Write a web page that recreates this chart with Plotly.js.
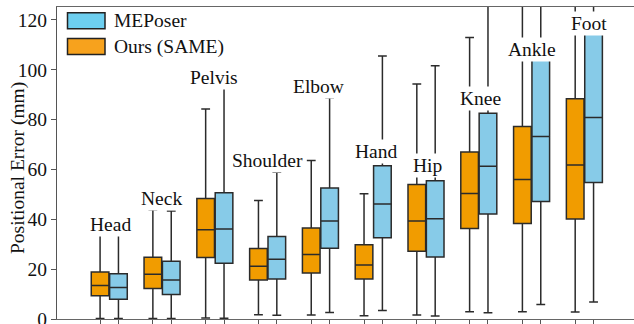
<!DOCTYPE html>
<html>
<head>
<meta charset="utf-8">
<script src="https://cdn.plot.ly/plotly-3.0.1.min.js"></script>
<style>html,body{margin:0;padding:0;background:#fff;}#chart{width:634px;height:324px;}</style>
</head>
<body>
<div id="chart"></div>
<script>
// ---- data ----
const joints = ["Head","Neck","Pelvis","Shoulder","Elbow","Hand","Hip","Knee","Ankle","Foot"];
// Ours (SAME)
const oursLow    = [0.2, 0.2, 0.4, 1.7, 1.6, 1.3, 1.6, 2.9, 2.9, 2.8];
const oursQ1     = [9.3, 12.2, 24.7, 15.6, 18.5, 16.1, 27.2, 36.3, 38.3, 40.1];
const oursMedian = [13.4, 18.0, 35.8, 21.2, 25.9, 21.7, 39.3, 50.4, 56.0, 61.8];
const oursQ3     = [18.9, 24.8, 48.4, 28.3, 36.5, 29.8, 54.0, 67.0, 77.2, 88.4];
const oursHigh   = [33.7, 43.8, 84.3, 47.6, 63.6, 50.3, 94.3, 113.0, 140.0, 150.0];
// MEPoser
const mepLow    = [0.2, 0.2, 0.3, 1.5, 2.6, 3.4, 1.2, 2.5, 5.8, 6.8];
const mepQ1     = [7.9, 9.8, 22.4, 16.1, 28.4, 32.6, 24.9, 42.1, 47.2, 54.8];
const mepMedian = [12.6, 15.6, 36.1, 24.0, 39.3, 46.1, 40.2, 61.3, 73.2, 80.9];
const mepQ3     = [18.2, 23.2, 50.7, 33.1, 52.6, 61.5, 55.5, 82.6, 108.0, 118.0];
const mepHigh   = [33.7, 43.3, 93.2, 58.9, 88.8, 105.5, 101.6, 140.0, 150.0, 160.0];
const seriesNames = ["MEPoser", "Ours (SAME)"];
const yTicks = [0, 20, 40, 60, 80, 100, 120];
const yTitle = "Positional Error (mm)";

// ---- label placement (not data) ----
const labelY  = [38.1, 48.2, 96.8, 63.8, 93.5, 67.1, 61.5, 88.3, 108.0, 118.7];
const labelDx = [0.015, -0.01, -0.02, -0.01, -0.04, 0.06, 0.03, 0.04, 0.0, 0.085];

const idx = joints.map((_, i) => i);
const boxOffset = 0.174;
const font = "Liberation Serif";
const fs = 19.5;
const oursFill = "#F19C00", mepFill = "#87CBE8";
const lineCol = "#2b2b2b";

const traces = [
  {
    type: "box", name: seriesNames[1], x: idx,
    lowerfence: oursLow, q1: oursQ1, median: oursMedian, q3: oursQ3, upperfence: oursHigh,
    fillcolor: oursFill, line: {color: lineCol, width: 1.5}, whiskerwidth: 0.5,
    boxpoints: false, showlegend: false, hoverinfo: "skip"
  },
  {
    type: "box", name: seriesNames[0], x: idx,
    lowerfence: mepLow, q1: mepQ1, median: mepMedian, q3: mepQ3, upperfence: mepHigh,
    fillcolor: mepFill, line: {color: lineCol, width: 1.5}, whiskerwidth: 0.5,
    boxpoints: false, showlegend: false, hoverinfo: "skip"
  }
];

const tickvals = [];
idx.forEach(i => { tickvals.push(i - boxOffset, i + boxOffset); });

const annotations = joints.map((j, i) => ({
  x: i + labelDx[i], y: labelY[i], xref: "x", yref: "y", text: j, showarrow: false,
  font: {family: font, size: fs, color: "#111"}, bgcolor: "#ffffff", borderpad: 1
}));

// custom legend + y title
const W = 577, H = 312;
const px = v => (v - 57) / W;
const py = v => 1 - (v - 7) / H;
const legendCols = ["#6DCFF0", "#F7A21D"];
const legendRowsY = [12.7, 38.5];
const shapes = [];
seriesNames.forEach((n, k) => {
  shapes.push({type: "rect", xref: "paper", yref: "paper",
    x0: px(67.5), x1: px(105), y0: py(legendRowsY[k]), y1: py(legendRowsY[k] + 16),
    fillcolor: legendCols[k], line: {color: "#222", width: 1.5}, layer: "above"});
  annotations.push({xref: "paper", yref: "paper", x: px(111.5), y: py(legendRowsY[k] + 8),
    xanchor: "left", yanchor: "middle", text: n, showarrow: false,
    font: {family: font, size: fs, color: "#111"}});
});
annotations.push({xref: "paper", yref: "paper", x: px(17.5), y: py(168.5),
  xanchor: "center", yanchor: "middle", textangle: -90, text: yTitle, showarrow: false,
  font: {family: font, size: fs, color: "#111"}});

const layout = {
  width: 634, height: 324,
  margin: {l: 57, r: 0, t: 7, b: 5},
  paper_bgcolor: "#fff", plot_bgcolor: "#fff",
  boxmode: "group", boxgap: 0.304, boxgroupgap: 0.04,
  showlegend: false,
  font: {family: font, size: fs, color: "#111"},
  xaxis: {
    range: [-0.99, 9.94], tickmode: "array", tickvals: tickvals, showticklabels: false,
    ticks: "outside", ticklen: 5, tickwidth: 1, tickcolor: "#555",
    showline: true, linecolor: "#666", linewidth: 1, mirror: true,
    showgrid: false, zeroline: false, fixedrange: true
  },
  yaxis: {
    range: [0, 125.2], tickmode: "array", tickvals: yTicks,
    ticks: "outside", ticklen: 5, tickwidth: 1, tickcolor: "#555",
    tickfont: {family: font, size: fs, color: "#111"}, ticklabeloverflow: "allow",
    showline: true, linecolor: "#555", linewidth: 1,
    showgrid: false, zeroline: false, fixedrange: true
  },
  annotations: annotations,
  shapes: shapes
};

Plotly.newPlot("chart", traces, layout, {staticPlot: true, displayModeBar: false});
</script>
</body>
</html>
